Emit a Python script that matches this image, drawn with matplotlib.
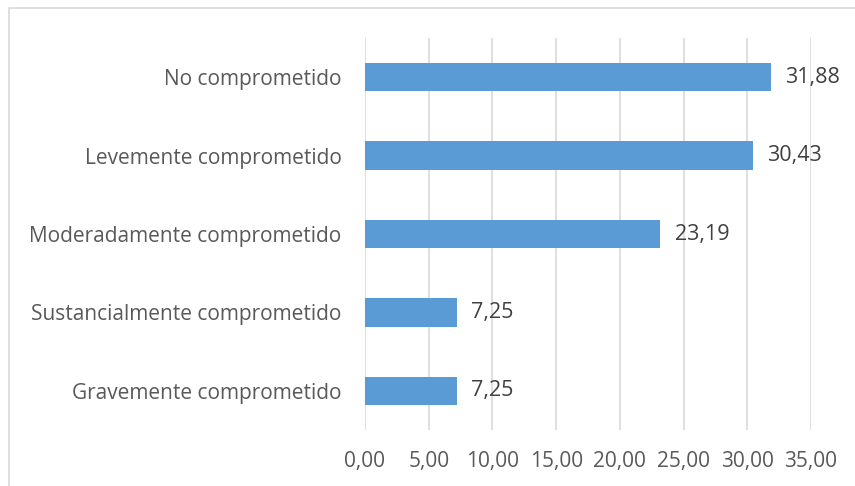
import matplotlib.pyplot as plt
from matplotlib.patches import Rectangle

# Categorías de mayor a menor (se dibujan de arriba hacia abajo)
categorias = [
    "No comprometido",
    "Levemente comprometido",
    "Moderadamente comprometido",
    "Sustancialmente comprometido",
    "Gravemente comprometido",
]
porcentajes = [31.88, 30.43, 23.19, 7.25, 7.25]
ticks_x = [0, 5, 10, 15, 20, 25, 30, 35]

plt.rcParams['font.family'] = ['Open Sans', 'DejaVu Sans']
gris_texto = '#595959'

fig = plt.figure(figsize=(8.55, 4.86), dpi=100)
ax = fig.add_axes([0.4269, 0.1152, 0.5216, 0.8066])

pos = list(range(len(categorias)))[::-1]
ax.barh(pos, porcentajes, height=0.36, color='#5B9BD5', zorder=3)

for y, v in zip(pos, porcentajes):
    ax.text(v + 1.1, y, f"{v:.2f}".replace('.', ','), va='center', ha='left',
            fontsize=15.5, color='#404040')

ax.set_xlim(0, 35)
ax.set_ylim(-0.5, 4.5)
ax.set_xticks(ticks_x)
ax.set_xticklabels([f"{t:.2f}".replace('.', ',') for t in ticks_x])
ax.set_yticks(pos)
ax.set_yticklabels(categorias)
ax.tick_params(axis='both', length=0, labelsize=15, labelcolor=gris_texto)
ax.tick_params(axis='x', pad=15)
ax.tick_params(axis='y', pad=17)

ax.grid(axis='x', color='#D9D9D9', linewidth=1.2, zorder=0)
for s in ax.spines.values():
    s.set_visible(False)

# Marco del gráfico (se corta por la derecha y por abajo)
fig.patches.append(Rectangle((8.5 / 855, -0.1), 1.2, 1 - 8.5 / 486 + 0.1,
                             transform=fig.transFigure, fill=False,
                             edgecolor='#D9D9D9', linewidth=1.2))

fig.savefig('out.png', dpi=100, facecolor='white')
